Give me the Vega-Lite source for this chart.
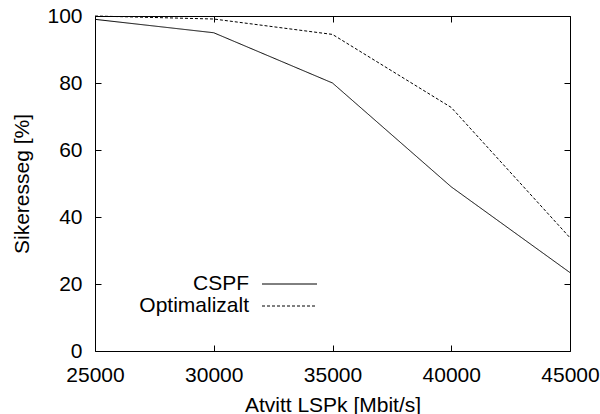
{
  "$schema": "https://vega.github.io/schema/vega-lite/v6.json",
  "width": 475,
  "height": 335,
  "autosize": {"type": "none"},
  "padding": {"left": 95, "top": 16, "right": 30, "bottom": 63},
  "background": "white",
  "config": {
    "view": {"stroke": "black", "strokeWidth": 1},
    "font": "Liberation Sans",
    "axis": {
      "grid": false,
      "domain": false,
      "tickColor": "black",
      "tickSize": -6,
      "tickWidth": 1,
      "labelFont": "Liberation Sans",
      "labelFontSize": 21,
      "labelColor": "black",
      "titleFont": "Liberation Sans",
      "titleFontSize": 21,
      "titleFontWeight": "normal",
      "titleColor": "black"
    }
  },
  "data": {
    "values": [
      {"series": "CSPF", "x": 25000, "y": 99},
      {"series": "CSPF", "x": 30000, "y": 95},
      {"series": "CSPF", "x": 35000, "y": 80},
      {"series": "CSPF", "x": 40000, "y": 49},
      {"series": "CSPF", "x": 45000, "y": 23.4},
      {"series": "Optimalizalt", "x": 25000, "y": 100},
      {"series": "Optimalizalt", "x": 30000, "y": 99.1},
      {"series": "Optimalizalt", "x": 35000, "y": 94.5},
      {"series": "Optimalizalt", "x": 40000, "y": 72.7},
      {"series": "Optimalizalt", "x": 45000, "y": 33.8}
    ]
  },
  "layer": [
    {
      "mark": {"type": "line", "color": "black", "strokeWidth": 1},
      "encoding": {
        "x": {
          "field": "x", "type": "quantitative",
          "scale": {"domain": [25000, 45000], "nice": false},
          "axis": {
            "orient": "bottom",
            "values": [25000, 30000, 35000, 40000, 45000],
            "format": "d",
            "labelPadding": 19.5,
            "labelFlush": false,
            "title": "Atvitt LSPk [Mbit/s]",
            "titleBaseline": "alphabetic",
            "titleY": 60
          }
        },
        "y": {
          "field": "y", "type": "quantitative",
          "scale": {"domain": [0, 100], "nice": false},
          "axis": {
            "orient": "left",
            "values": [0, 20, 40, 60, 80, 100],
            "labelPadding": 19,
            "labelFlush": false,
            "title": "Sikeresseg [%]",
            "titleAngle": 270,
            "titleBaseline": "alphabetic",
            "titleAlign": "center",
            "titleX": -66.7,
            "titleY": 167.5
          }
        },
        "strokeDash": {
          "field": "series", "type": "nominal",
          "scale": {"domain": ["CSPF", "Optimalizalt"], "range": [[1, 0], [3, 2]]},
          "legend": {
            "title": null,
            "orient": "none",
            "legendX": 184,
            "legendY": 257.5,
            "padding": 0,
            "symbolType": "M-5.5,0H5.5",
            "symbolSize": 100,
            "symbolStrokeWidth": 1,
            "symbolStrokeColor": "black",
            "symbolFillColor": "transparent",
            "labelAlign": "right",
            "labelOffset": -51,
            "labelFont": "Liberation Sans",
            "labelFontSize": 21,
            "labelColor": "black",
            "rowPadding": 0,
            "labelLimit": 300
          }
        }
      }
    },
    {
      "mark": {"type": "line", "opacity": 0},
      "encoding": {
        "x": {
          "field": "x", "type": "quantitative",
          "axis": {"orient": "top", "values": [25000, 30000, 35000, 40000, 45000], "labels": false, "title": null}
        },
        "y": {
          "field": "y", "type": "quantitative",
          "axis": {"orient": "right", "values": [0, 20, 40, 60, 80, 100], "labels": false, "title": null}
        }
      }
    }
  ]
}
